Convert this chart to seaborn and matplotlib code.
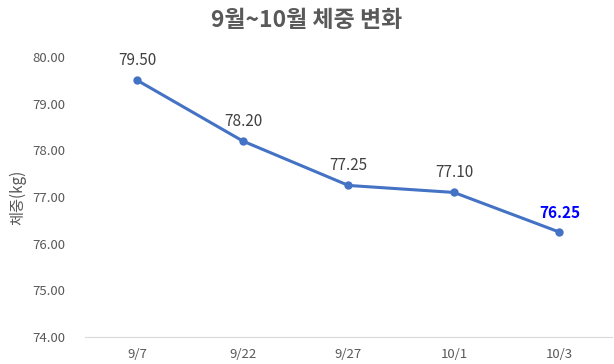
import matplotlib
matplotlib.use("Agg")
import matplotlib.pyplot as plt
import seaborn as sns
import pandas as pd
from matplotlib.ticker import FixedLocator

# data
dates = ["9/7", "9/22", "9/27", "10/1", "10/3"]
weights = [79.50, 78.20, 77.25, 77.10, 76.25]
y_ticks = [74.00, 75.00, 76.00, 77.00, 78.00, 79.00, 80.00]

sns.set_style("white")
plt.rcParams['font.family'] = ['Noto Sans CJK KR', 'DejaVu Sans']

df = pd.DataFrame({"date": dates, "weight": weights})

fig = plt.figure(figsize=(6.14, 3.64), dpi=100)
ax = fig.add_axes([0.138, 0.074, 0.859, 0.769])

line_color = "#4472C4"
sns.lineplot(data=df, x="date", y="weight", sort=False, color=line_color,
             linewidth=2.2, marker="o", markersize=6, markeredgewidth=0, ax=ax)

ax.set_xlim(-0.5, len(dates) - 0.5)
ax.set_ylim(y_ticks[0], y_ticks[-1])
ax.set_yticks(y_ticks)
ax.set_yticklabels([f"{v:.2f}" for v in y_ticks])

# data labels
for i, v in enumerate(weights):
    last = i == len(weights) - 1
    ax.annotate(f"{v:.2f}", (i, v), xytext=(0, 8), textcoords="offset points",
                ha="center", va="bottom", fontsize=11,
                color="#0000FF" if last else "#404040",
                fontweight="bold" if last else "normal")

# axis styling like the spreadsheet chart
for s in ["top", "right", "left"]:
    ax.spines[s].set_visible(False)
ax.spines["bottom"].set_color("#d9d9d9")
ax.tick_params(axis="x", which="major", length=0, pad=8, labelsize=9.5, labelcolor="#595959")
ax.xaxis.set_minor_locator(FixedLocator([i - 0.5 for i in range(len(dates) + 1)]))
ax.tick_params(axis="x", which="minor", length=5, color="#d9d9d9")
ax.tick_params(axis="y", length=0, labelsize=9.5, labelcolor="#595959", pad=14)
ax.grid(False)

ax.set_xlabel("")
ax.set_ylabel("체중(kg)", fontsize=11, color="#595959", labelpad=4)
fig.text(0.5, 0.945, "9월~10월 체중 변화", ha="center", va="center",
         fontsize=16.5, fontweight="bold", color="#595959")

fig.savefig("out.png", dpi=100)
